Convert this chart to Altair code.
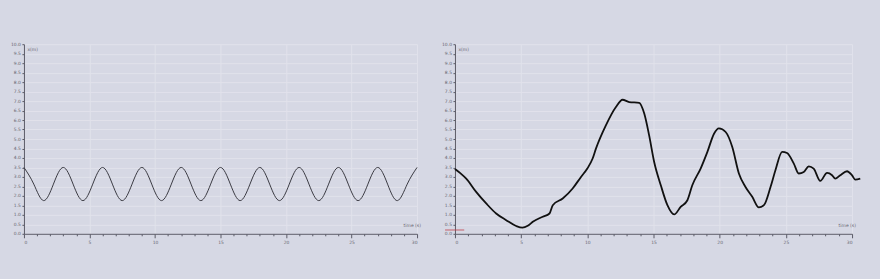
import altair as alt
import pandas as pd

# Left panel: oscillation read at quarter-period points (period 3 s)
sine_t = [0, 0.75, 1.5, 2.25, 3, 3.75, 4.5, 5.25, 6, 6.75, 7.5, 8.25, 9, 9.75,
          10.5, 11.25, 12, 12.75, 13.5, 14.25, 15, 15.75, 16.5, 17.25, 18,
          18.75, 19.5, 20.25, 21, 21.75, 22.5, 23.25, 24, 24.75, 25.5, 26.25,
          27, 27.75, 28.5, 29.25, 30]
sine_x = [3.5, 2.62, 1.75, 2.62, 3.5, 2.62, 1.75, 2.62, 3.5, 2.62, 1.75, 2.62,
          3.5, 2.62, 1.75, 2.62, 3.5, 2.62, 1.75, 2.62, 3.5, 2.62, 1.75, 2.62,
          3.5, 2.62, 1.75, 2.62, 3.5, 2.62, 1.75, 2.62, 3.5, 2.62, 1.75, 2.62,
          3.5, 2.62, 1.75, 2.62, 3.5]

# Right panel: measured position
meas_t = [0.0, 0.4, 0.85, 1.6, 2.36, 3.11, 3.87, 4.62, 5.1, 5.5, 5.88, 6.63,
          7.14, 7.39, 8.14, 8.89, 9.52, 10.0, 10.4, 10.65, 11.4, 12.16, 12.66,
          13.16, 13.92, 14.3, 14.67, 15.05, 15.55, 16.05, 16.56, 17.05, 17.56,
          17.93, 18.56, 19.07, 19.57, 19.94, 20.45, 20.95, 21.45, 21.95, 22.46,
          22.96, 23.34, 23.84, 24.21, 24.72, 25.09, 25.6, 25.97, 26.35, 26.73,
          27.1, 27.6, 28.11, 28.49, 28.73, 29.11, 29.62, 29.99, 30.24, 30.62]
meas_x = [3.42, 3.2, 2.91, 2.21, 1.6, 1.07, 0.72, 0.41, 0.32, 0.42, 0.63, 0.9,
          1.07, 1.51, 1.86, 2.39, 3.0, 3.44, 3.97, 4.49, 5.72, 6.69, 7.07,
          6.95, 6.91, 6.34, 5.19, 3.79, 2.56, 1.51, 1.02, 1.42, 1.77,
          2.56, 3.44, 4.32, 5.28, 5.56, 5.37, 4.58, 3.18, 2.47, 1.95,
          1.39, 1.51, 2.47, 3.35, 4.32, 4.26, 3.7, 3.18, 3.26, 3.56,
          3.44, 2.79, 3.21, 3.09, 2.91, 3.09, 3.3, 3.09, 2.86, 2.91]

marker_t = [-0.75, 0.7]
marker_x = [0.2, 0.2]

BG = "#d6d8e4"
GRID = "#e1e2eb"
AX = "#5a5a66"

x_ticks = list(range(0, 31))
y_ticks = [i / 2 for i in range(0, 21)]


def x_axis(w):
    return alt.Axis(
        values=x_ticks,
        labelExpr="datum.value % 5 == 0 ? datum.label : ''",
        grid=True,
        gridColor=GRID,
        gridOpacity={"condition": {"test": "datum.value % 5 == 0", "value": 1}, "value": 0},
        tickSize={"condition": {"test": "datum.value % 5 == 0", "value": 4}, "value": 2},
        title="time (s)",
        titleX=w - 14,
        titleY=-6,
        titleAlign="left",
        titleBaseline="bottom",
        titleAngle=0,
    )


def y_axis():
    return alt.Axis(
        values=y_ticks,
        format=".1f",
        grid=True,
        gridColor=GRID,
        tickSize=2,
        title="x(m)",
        titleAngle=0,
        titleX=3,
        titleY=2,
        titleAlign="left",
        titleBaseline="top",
    )


def enc(w):
    return dict(
        x=alt.X("t:Q", scale=alt.Scale(domain=[0, 30], nice=False), axis=x_axis(w)),
        y=alt.Y("x:Q", scale=alt.Scale(domain=[0, 10], nice=False), axis=y_axis()),
    )


def panel(t, x, w, h, stroke, sw, interp):
    df = pd.DataFrame({"t": t, "x": x})
    return alt.Chart(df).mark_line(
        color=stroke, strokeWidth=sw, interpolate=interp, clip=False
    ).encode(**enc(w)).properties(width=w, height=h)


left = panel(sine_t, sine_x, 394, 190, "#3a3a42", 1.0, "natural")

right_line = panel(meas_t, meas_x, 398, 190, "#111111", 1.8, "monotone")
marker = alt.Chart(pd.DataFrame({"t": marker_t, "x": marker_x})).mark_line(
    color="#c0404a", strokeWidth=0.8, clip=False
).encode(**enc(398))
right = alt.layer(right_line, marker)

chart = alt.hconcat(left, right, spacing=38, bounds="flush").properties(
    padding={"left": 10, "top": 41, "right": 16, "bottom": 37},
    background=BG,
).configure_view(stroke=None).configure_axis(
    domainColor=AX,
    domainWidth=1,
    tickColor=AX,
    labelColor="#666670",
    labelFontSize=4.5,
    labelFont="DejaVu Sans",
    labelPadding=1.5,
    titleColor="#666670",
    titleFontSize=4.5,
    titleFont="DejaVu Sans",
    titleFontWeight="normal",
)

chart.save("out.html", embed_options={"renderer": "svg", "actions": False})
